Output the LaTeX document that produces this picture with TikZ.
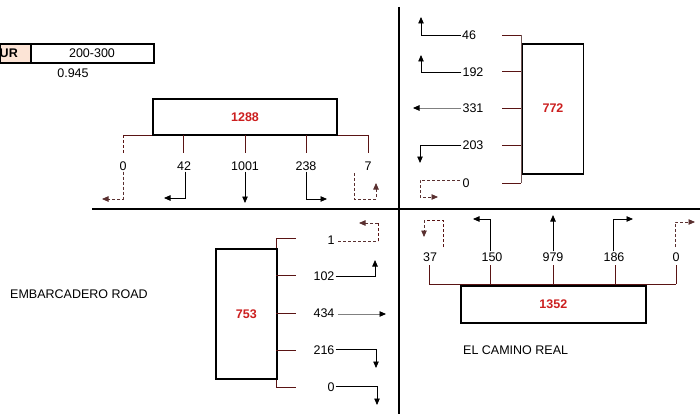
\documentclass[tikz,border=0pt]{standalone}
\usepackage{fontspec}
\setmainfont{Liberation Sans}
\usetikzlibrary{arrows.meta}
\definecolor{tick}{HTML}{5A1414}
\definecolor{numred}{HTML}{CC1F1F}
\definecolor{peach}{HTML}{FCE4D6}
\definecolor{arrgrey}{HTML}{808080}
\definecolor{dashc}{HTML}{5A3030}
\begin{document}
\begin{tikzpicture}[x=1pt,y=-1pt,
  lbl/.style={font=\fontsize{12.5}{14}\selectfont, inner sep=1pt},
  bignum/.style={font=\fontsize{12.5}{14}\selectfont\bfseries, text=numred},
  box/.style={draw, line width=1.6pt, inner sep=0pt},
  arr/.style={line width=0.8pt, -{Triangle[length=6.5pt,width=5.5pt]}},
  garr/.style={line width=0.9pt, draw=arrgrey, -{Triangle[length=6.5pt,width=5.5pt,black]}},
  darr/.style={arr, draw=dashc, dash pattern=on 3pt off 2pt},
  tk/.style={draw=tick, line width=0.8pt},
  dtk/.style={tk, dash pattern=on 3pt off 2pt},
  road/.style={line width=1.6pt},
]
\useasboundingbox (0,0) rectangle (700,414);

% roads
\coordinate (rw) at (92,209); \coordinate (re) at (700,209);
\coordinate (rn) at (399,7); \coordinate (rs) at (399,414);
\draw[road] (rw) -- (re);
\draw[road] (rn) -- (rs);

% top left table
\node[box, fill=peach, minimum width=31pt, minimum height=19pt, anchor=north west] (urcell) at (-1,43) {};
\node[box, minimum width=123pt, minimum height=19pt, anchor=north west] (range) at (30,43) {};
\node[lbl, font=\fontsize{12.5}{14}\selectfont\bfseries, anchor=east] (ur) at (19,53) {UR};
\node[lbl] (rangetxt) at (92,53) {200-300};
\node[lbl] (factor) at (73,73) {0.945};

% ---------- north approach (1288) ----------
\coordinate (nl) at (123,135); \coordinate (nr) at (368,135);
\draw[tk] (nl) -- (nr);
\node[box, fill=white, minimum width=184pt, minimum height=36pt] (b1288) at (245,117) {};
\node[bignum] (t1288) at (b1288) {1288};
\draw[dtk] (nl) -- ++(0,18);
\foreach \x in {183,245,306,368} \draw[tk] (\x,135) -- (\x,153);
\node[lbl] (n0) at (123,166) {0};
\node[lbl] (n42) at (184,166) {42};
\node[lbl] (n1001) at (245,166) {1001};
\node[lbl] (n238) at (306,166) {238};
\node[lbl] (n7) at (368,166) {7};
\coordinate (n0e) at (102,199);
\coordinate (n42e) at (164,198);
\coordinate (n1001e) at (245,203);
\coordinate (n238e) at (327,199);
\coordinate (n7s) at (354,173);
\coordinate (n7c) at (376,199);
\coordinate (n7e) at (376,183);
\draw[darr] (n0.south) |- (n0e);
\draw[arr] ([xshift=1pt]n42.south) |- (n42e);
\draw[arr] (n1001.south) -- (n1001e);
\draw[arr] (n238.south) |- (n238e);
\draw[darr] (n7s) |- (n7c) -- (n7e);

% ---------- east approach (772) ----------
\coordinate (et) at (521,35); \coordinate (eb) at (521,183);
\draw[tk, draw=arrgrey!60!tick] (et) -- (eb);
\node[box, fill=white, minimum width=61pt, minimum height=130pt, anchor=north west] (b772) at (521.5,43) {};
\node[bignum] (t772) at (553,108) {772};
\foreach \y in {35,71,108,145,183} \draw[tk] (502,\y) -- (521,\y);
\node[lbl] (e46) at (469,35) {46};
\node[lbl] (e192) at (473,72) {192};
\node[lbl] (e331) at (473,108) {331};
\node[lbl] (e203) at (473,145) {203};
\node[lbl] (e0) at (466,183) {0};
\coordinate (e46e) at (421,17);
\coordinate (e192e) at (421,55);
\coordinate (e331e) at (413,108);
\coordinate (e203e) at (420,163);
\coordinate (e0s) at (460,180);
\coordinate (e0c) at (420,197);
\coordinate (e0e) at (438,197);
\draw[arr] (e46.west) -| (e46e);
\draw[arr] (e192.west) -| (e192e);
\draw[garr] (e331.west) -- (e331e);
\draw[arr] (e203.west) -| (e203e);
\draw[darr] (e0s) -| (e0c) -- (e0e);

% ---------- south approach (1352) ----------
\coordinate (sl) at (429,284); \coordinate (sr) at (676,284);
\draw[tk] (sl) -- (sr);
\node[box, fill=white, minimum width=185pt, minimum height=37pt, anchor=north west] (b1352) at (460,285) {};
\node[bignum] (t1352) at (b1352) {1352};
\foreach \x in {429,490,553,615,676} \draw[tk] (\x,284) -- (\x,265);
\node[lbl] (s37) at (430,257) {37};
\node[lbl] (s150) at (492,257) {150};
\node[lbl] (s979) at (553,257) {979};
\node[lbl] (s186) at (614,257) {186};
\node[lbl] (s0) at (676,257) {0};
\coordinate (s37s) at (443,247);
\coordinate (s37c) at (424,220);
\coordinate (s37e) at (424,237);
\coordinate (s150e) at (473,219);
\coordinate (s979e) at (553,215);
\coordinate (s186e) at (633,219);
\coordinate (s0s) at (675,247);
\coordinate (s0e) at (695,222);
\draw[dtk] (s37s) |- (s37c);
\draw[darr] (s37c) -- (s37e);
\draw[arr] ([xshift=-2pt]s150.north) |- (s150e);
\draw[arr] (s979.north) -- (s979e);
\draw[arr] ([xshift=-1pt]s186.north) |- (s186e);
\draw[darr] (s0s) |- (s0e);

% ---------- west approach (753) ----------
\coordinate (wt) at (276,238); \coordinate (wb) at (276,387);
\draw[tk] (wt) -- (wb);
\node[box, fill=white, minimum width=61pt, minimum height=130pt, anchor=north west] (b753) at (215,248) {};
\node[bignum] (t753) at (b753) {753};
\foreach \y in {238,275,313,350,387} \draw[tk] (276,\y) -- (296,\y);
\node[lbl] (w1) at (331,240) {1};
\node[lbl] (w102) at (324,276) {102};
\node[lbl] (w434) at (324,313) {434};
\node[lbl] (w216) at (324,350) {216};
\node[lbl] (w0) at (331,387) {0};
\coordinate (w1s) at (338,241);
\coordinate (w1c) at (378,241);
\coordinate (w1t) at (378,223);
\coordinate (w1e) at (359,223);
\coordinate (w102e) at (375,260);
\coordinate (w434s) at (338,314);
\coordinate (w434e) at (386,314);
\coordinate (w216e) at (376,368);
\coordinate (w0e) at (377,405);
\draw[draw=dashc, line width=0.8pt, dash pattern=on 3pt off 2pt] (w1s) -- (w1c);
\draw[dtk] (w1c) -- (w1t);
\draw[darr] (w1t) -- (w1e);
\draw[arr] (w102.east) -| (w102e);
\draw[garr] (w434s) -- (w434e);
\draw[arr] ([yshift=1pt]w216.east) -| (w216e);
\draw[arr] ([yshift=1pt]w0.east) -| (w0e);

% street names
\node[lbl, anchor=west] (emb) at (9,294) {EMBARCADERO ROAD};
\node[lbl, anchor=west] (ecr) at (462,350) {EL CAMINO REAL};
\end{tikzpicture}
\end{document}
